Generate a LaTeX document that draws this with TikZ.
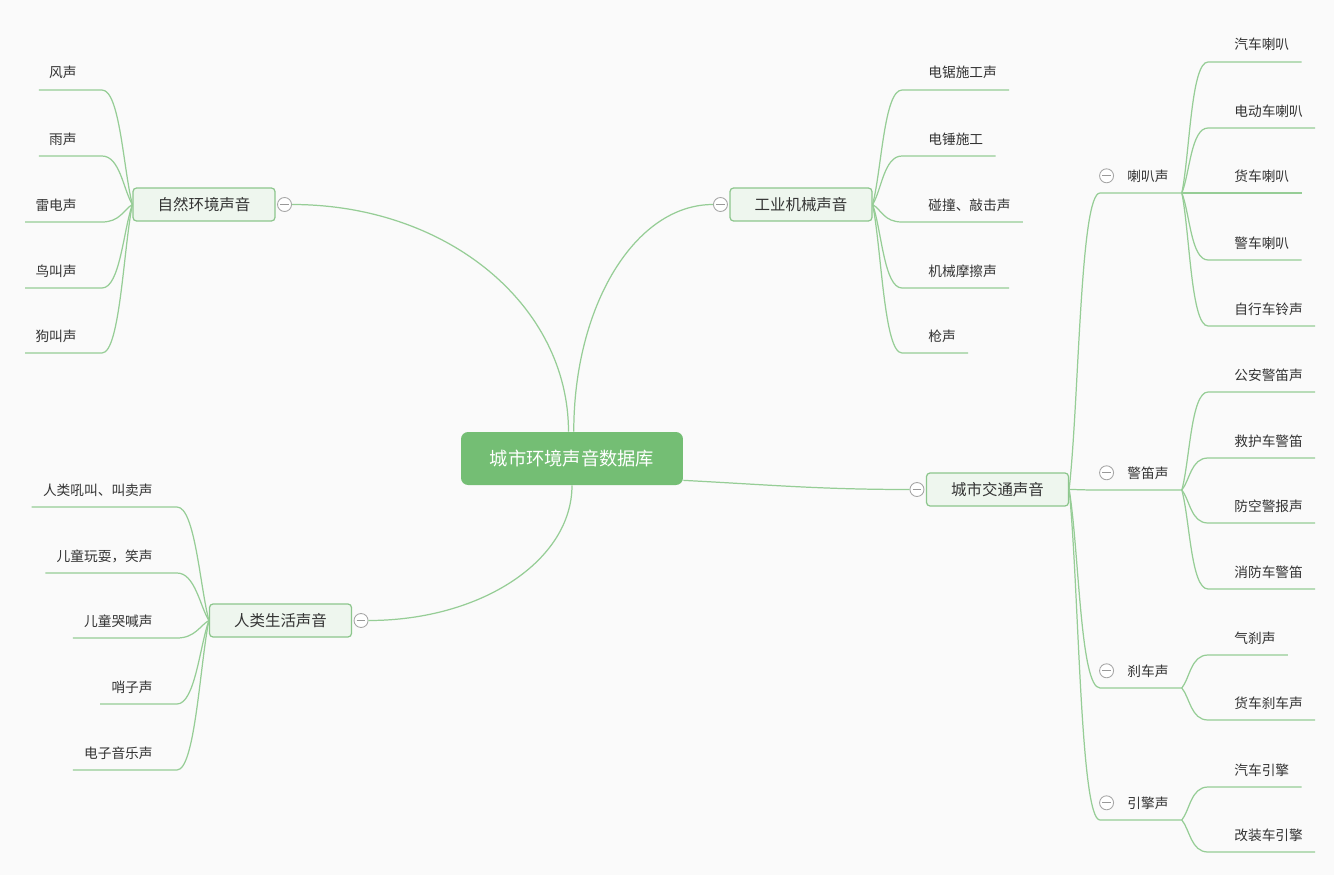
\documentclass[tikz,border=0pt]{standalone}
\usepackage{fontspec}
\setmainfont{Noto Sans CJK SC}
\usetikzlibrary{positioning,calc}

\definecolor{mapline}{RGB}{150,205,150}
\definecolor{rootfill}{RGB}{116,190,116}
\definecolor{topicfill}{RGB}{238,246,238}
\definecolor{topicline}{RGB}{140,198,140}
\definecolor{inkgray}{RGB}{51,51,51}
\definecolor{paper}{RGB}{250,250,250}

\tikzset{
  branch/.style={draw=mapline, line width=0.7pt},
  rootbox/.style={rectangle, rounded corners=4pt, fill=rootfill, text=white,
    minimum width=4.44cm, minimum height=1.06cm,
    font=\fontsize{10.4}{12}\selectfont},
  topic/.style={rectangle, rounded corners=2pt, draw=topicline, fill=topicfill,
    text=inkgray, line width=0.7pt, minimum width=2.84cm, minimum height=0.66cm,
    font=\fontsize{8.8}{10}\selectfont},
  fold/.style={circle, draw=gray!70, fill=white, minimum size=0.28cm, inner sep=0pt,
    line width=0.5pt,
    path picture={\draw[gray!80, line width=0.5pt]
      ([xshift=1.5pt]path picture bounding box.west) --
      ([xshift=-1.5pt]path picture bounding box.east);}},
  leaf/.style={inner sep=0pt, text=inkgray, font=\fontsize{7.8}{9}\selectfont},
}

\begin{document}
\begin{tikzpicture}[x=0.02cm, y=-0.02cm]
    \fill[paper] (0,0) rectangle (1334,875);
    \useasboundingbox (0,0) rectangle (1334,875);

    % root and main topics
    \node[rootbox] (db) at (572,458.5) {城市环境声音数据库};
    \node[topic] (nature) at (204,204.5) {自然环境声音};
    \node[fold, right=0.03cm of nature] (nature-fold) {};
    \node[topic] (industry) at (801,204.5) {工业机械声音};
    \node[fold, left=0.03cm of industry] (industry-fold) {};
    \node[topic] (traffic) at (997.5,489.5) {城市交通声音};
    \node[fold, left=0.03cm of traffic] (traffic-fold) {};
    \node[topic] (human) at (280.5,620.5) {人类生活声音};
    \node[fold, right=0.03cm of human] (human-fold) {};

    \draw[branch] (nature-fold.east) .. controls +(156,0) and +(0,-126) .. ([xshift=-2]db.north);
    \draw[branch] (industry-fold.west) .. controls +(-78,0) and +(0,-126) .. ([xshift=1]db.north);
    \draw[branch] (human-fold.east) .. controls +(113,0) and +(0,75) .. (db.south);
    \draw[branch] ($(db.south east)+(0,-5)$) to[out=-3,in=180] (traffic-fold.west);

    % natural sounds
    \foreach \y/\txt [count=\i] in {90/风声,156/雨声,222/雷电声,288/鸟叫声,353/狗叫声} {
        \node[leaf, anchor=base east] (nature-\i) at (77,\y-12) {\txt};
        \pgfmathsetmacro\bend{0.3*(\y-204)}
        \draw[branch] (nature.west) .. controls +(-9,\bend) and +(18,0) .. ($(nature-\i.base east)+(25,12)$) -- ($(nature-\i.base west)+(-10,12)$);
    }

    % machinery
    \foreach \y/\txt [count=\i] in {90/电锯施工声,156/电锤施工,222/碰撞、敲击声,288/机械摩擦声,353/枪声} {
        \node[leaf, anchor=base west] (industry-\i) at (928,\y-12) {\txt};
        \pgfmathsetmacro\bend{0.3*(\y-204)}
        \draw[branch] (industry.east) .. controls +(9,\bend) and +(-18,0) .. ($(industry-\i.base west)+(-26,12)$) -- ($(industry-\i.base east)+(12,12)$);
    }

    % human life
    \foreach \y/\txt [count=\i] in {507/人类吼叫、叫卖声,573/儿童玩耍，笑声,638/儿童哭喊声,704/哨子声,770/电子音乐声} {
        \node[leaf, anchor=base east] (human-\i) at (153,\y-12) {\txt};
        \pgfmathsetmacro\bend{0.3*(\y-621)}
        \draw[branch] (human.west) .. controls +(-9,\bend) and +(18,0) .. ($(human-\i.base east)+(24,12)$) -- ($(human-\i.base west)+(-11,12)$);
    }

    % traffic
    \foreach \sy/\stxt/\leaves [count=\j] in {
        193/喇叭声/{62/汽车喇叭,128/电动车喇叭,193/货车喇叭,260/警车喇叭,326/自行车铃声},
        490/警笛声/{392/公安警笛声,458/救护车警笛,523/防空警报声,589/消防车警笛},
        688/刹车声/{655/气刹声,720/货车刹车声},
        820/引擎声/{787/汽车引擎,852/改装车引擎}} {
        \node[leaf, anchor=base west] (sound-\j) at (1127,\sy-12) {\stxt};
        \node[fold, left=0.26cm of sound-\j] (sound-\j-fold) {};
        \coordinate (sound-\j-end) at ($(sound-\j.base east)+(13,12)$);
        \pgfmathsetmacro\bend{0.3*(\sy-490)}
        \draw[branch] (traffic.east) .. controls +(10,\bend) and +(-20,0) .. ($(sound-\j.base west)+(-27,12)$) -- (sound-\j-end);
        \foreach \y/\txt [count=\i] in \leaves {
            \node[leaf, anchor=base west] (sound-\j-\i) at (1234,\y-12) {\txt};
            \pgfmathsetmacro\bend{0.3*(\y-\sy)}
            \draw[branch] (sound-\j-end) .. controls +(8,\bend) and +(-17,0) .. ($(sound-\j-\i.base west)+(-26,12)$) -- ($(sound-\j-\i.base east)+(12,12)$);
        }
    }
\end{tikzpicture}
\end{document}
